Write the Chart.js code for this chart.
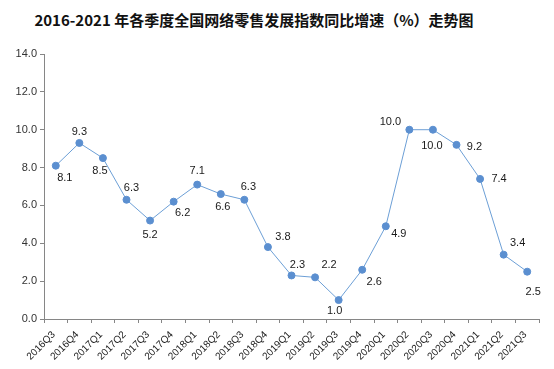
<!DOCTYPE html>
<html>
<head>
<meta charset="utf-8">
<script src="https://cdn.jsdelivr.net/npm/chart.js@4"></script>
<style>
  html, body { margin: 0; padding: 0; background: #fff; }
  #wrap { position: relative; width: 554px; height: 369px; }
  #title {
    position: absolute; left: 0; top: 10px; width: 508px; text-align: center;
    font: bold 15px "Noto Sans CJK SC", sans-serif; color: #111; line-height: 20px;
  }
  canvas { position: absolute; left: 0; top: 0; }
</style>
</head>
<body>
<div id="wrap">
  <div id="title">2016-2021 年各季度全国网络零售发展指数同比增速（%）走势图</div>
  <canvas id="chart" width="554" height="369"></canvas>
</div>
<script>
const quarters = ['2016Q3', '2016Q4', '2017Q1', '2017Q2', '2017Q3', '2017Q4', '2018Q1', '2018Q2', '2018Q3', '2018Q4',
  '2019Q1', '2019Q2', '2019Q3', '2019Q4', '2020Q1', '2020Q2', '2020Q3', '2020Q4', '2021Q1', '2021Q2', '2021Q3'];
const growth = [8.1, 9.3, 8.5, 6.3, 5.2, 6.2, 7.1, 6.6, 6.3, 3.8, 2.3, 2.2, 1.0, 2.6, 4.9, 10.0, 10.0, 9.2, 7.4, 3.4, 2.5];
const yTicks = [0, 2, 4, 6, 8, 10, 12, 14];

// where each value label sits relative to its point (px)
const labelOffsets = [[9, 12], [0, -11], [-3, 13], [5, -12], [0, 14], [9, 11], [0, -14], [2, 13], [4, -13], [15, -10],
  [6, -10], [14, -12], [-4, 11], [12, 12], [13, 8], [-19, -8], [-1, 16], [18, 2], [19, 0], [14, -12], [6, 20]];

const valueLabels = {
  id: 'valueLabels',
  afterDatasetsDraw(chart) {
    const ctx = chart.ctx;
    const meta = chart.getDatasetMeta(0);
    ctx.save();
    ctx.font = '11px "Liberation Sans", sans-serif';
    ctx.fillStyle = '#1a1a1a';
    ctx.textAlign = 'center';
    ctx.textBaseline = 'middle';
    meta.data.forEach((pt, i) => {
      const [dx, dy] = labelOffsets[i];
      ctx.fillText(growth[i].toFixed(1), pt.x + dx, pt.y + dy);
    });
    ctx.restore();
  }
};

new Chart(document.getElementById('chart'), {
  type: 'line',
  data: {
    labels: quarters,
    datasets: [{
      data: growth,
      borderColor: '#6c9fd6',
      borderWidth: 1,
      pointBackgroundColor: '#5b8fd0',
      pointBorderColor: '#5b8fd0',
      pointRadius: 3.5,
      tension: 0
    }]
  },
  options: {
    responsive: false,
    animation: false,
    layout: { padding: { top: 54, right: 15, left: 0, bottom: 0 } },
    plugins: { legend: { display: false }, tooltip: { enabled: false } },
    scales: {
      x: {
        offset: true,
        grid: { offset: true, drawOnChartArea: false, drawTicks: true, tickLength: 4, color: '#868686' },
        border: { color: '#868686' },
        ticks: {
          minRotation: 45, maxRotation: 45, autoSkip: false, padding: 6, labelOffset: -2,
          color: '#222', font: { family: 'Liberation Sans', size: 10 }
        },
        afterFit(scale) { scale.height = 50; }
      },
      y: {
        min: 0, max: 14,
        afterBuildTicks(scale) { scale.ticks = yTicks.map(v => ({ value: v })); },
        grid: { drawOnChartArea: false, drawTicks: true, tickLength: 4, color: '#868686' },
        border: { color: '#868686' },
        ticks: {
          padding: 3, color: '#333', font: { family: 'Liberation Sans', size: 11 },
          callback: v => v.toFixed(1)
        },
        afterFit(scale) { scale.width = 44; }
      }
    }
  },
  plugins: [valueLabels]
});
</script>
</body>
</html>
